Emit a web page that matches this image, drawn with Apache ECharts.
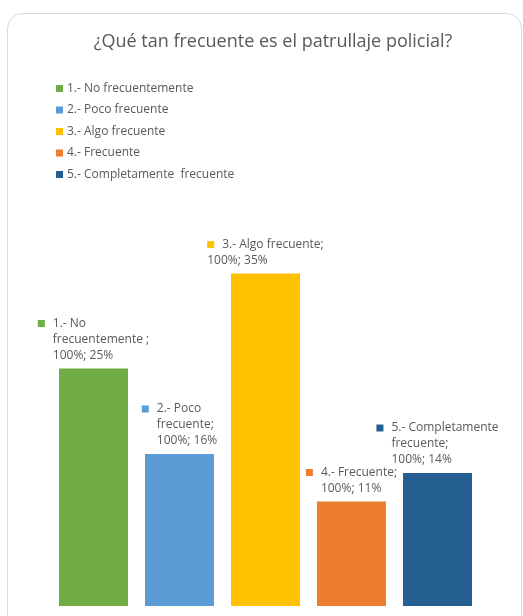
<!DOCTYPE html>
<html>
<head>
<meta charset="utf-8">
<script src="https://cdn.jsdelivr.net/npm/echarts@6/dist/echarts.min.js"></script>
<style>
  html, body { margin: 0; padding: 0; background: #fff; }
  #chart { width: 523px; height: 616px; }
</style>
</head>
<body>
<div id="chart"></div>
<script>
// datos
var categories = ['100%', '100%', '100%', '100%', '100%'];
var seriesNames = ['1.- No frecuentemente', '2.- Poco frecuente', '3.- Algo frecuente', '4.- Frecuente', '5.- Completamente  frecuente'];
var values = [25, 16, 35, 11, 14];
var colors = ['#70AD47', '#5B9BD5', '#FFC000', '#ED7D31', '#255E91'];
// lineas de cada etiqueta (como salen en el original)
var labelLines = [
    ['1.- No', 'frecuentemente ;', '100%; 25%'],
    ['2.- Poco', 'frecuente;', '100%; 16%'],
    ['3.- Algo frecuente;', '100%; 35%'],
    ['4.- Frecuente;', '100%; 11%'],
    ['5.- Completamente', 'frecuente;', '100%; 14%']
];
// la etiqueta 3 no tiene sangria en la segunda linea
var indentRest = [true, true, false, true, true];

var font = '"Open Sans", "Noto Sans", sans-serif';
var chart = echarts.init(document.getElementById('chart'));

function makeLabel(i) {
    var lines = labelLines[i];
    var out = '{sq|}{t|' + lines[0] + '}';
    for (var k = 1; k < lines.length; k++) {
        if (indentRest[i]) {
            out += '\n{sp|}{t|' + lines[k] + '}';
        } else {
            out += '\n{t0|' + lines[k] + '}';
        }
    }
    return out;
}

var series = seriesNames.map(function (name, i) {
    var data = categories.map(function () { return '-'; });
    data[i] = values[i];
    return {
        name: name,
        type: 'bar',
        barWidth: 69,
        barGap: '-100%',
        itemStyle: { color: colors[i] },
        data: data,
        label: {
            show: true,
            position: 'top',
            distance: 5,
            formatter: function () { return makeLabel(i); },
            rich: {
                sq: { width: 7, height: 7, backgroundColor: colors[i], align: 'left' },
                sp: { width: 7, height: 7, align: 'left' },
                t: { fontSize: 12, color: '#595959', fontFamily: font, lineHeight: 16, padding: [0, 0, 0, 8], align: 'left' },
                t0: { fontSize: 12, color: '#595959', fontFamily: font, lineHeight: 16, align: 'left' }
            }
        }
    };
});

var option = {
    backgroundColor: '#fff',
    animation: false,
    title: {
        text: '¿Qué tan frecuente es el patrullaje policial?',
        left: 268,
        textAlign: 'center',
        top: 28,
        textStyle: { fontSize: 18, fontWeight: 'normal', color: '#595959', fontFamily: font }
    },
    legend: {
        orient: 'vertical',
        left: 51,
        top: 75,
        itemWidth: 7,
        itemHeight: 7,
        itemGap: 4.5,
        icon: 'rect',
        data: seriesNames,
        textStyle: { fontSize: 12, color: '#595959', fontFamily: font, lineHeight: 17, padding: [0, 0, 0, -1] }
    },
    graphic: [{
        type: 'rect',
        shape: { x: 7.5, y: 13.5, width: 514, height: 640, r: 15 },
        style: { fill: 'none', stroke: '#d9d9d9', lineWidth: 1 },
        silent: true,
        z: -1
    }],
    grid: { left: 50.5, right: 42.5, top: 226, bottom: 10 },
    xAxis: {
        type: 'category',
        data: categories,
        show: false
    },
    yAxis: {
        type: 'value',
        min: 0,
        max: 40,
        show: false
    },
    series: series
};
chart.setOption(option);
</script>
</body>
</html>
